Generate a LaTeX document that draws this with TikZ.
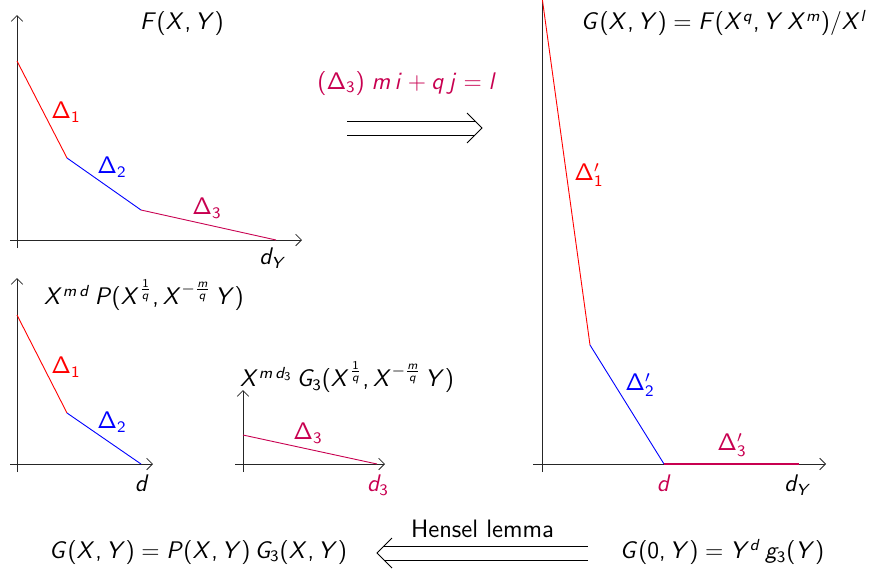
\documentclass[tikz,border=0pt]{standalone}
\usepackage{xcolor}
\usepackage{tikz}
\usetikzlibrary{positioning,arrows.meta,calc}
\definecolor{purp}{RGB}{200,0,80}
% sans serif maths
\DeclareSymbolFont{sfletters}{OT1}{cmss}{m}{sl}
\DeclareSymbolFont{sfops}{OT1}{cmss}{m}{n}
\newcount\mcc
\mcc=`A
\loop \mathcode\mcc=\numexpr"7000+\symsfletters*"100+\mcc\relax
  \ifnum\mcc<`Z \advance\mcc 1 \repeat
\mcc=`a
\loop \mathcode\mcc=\numexpr"7000+\symsfletters*"100+\mcc\relax
  \ifnum\mcc<`z \advance\mcc 1 \repeat
\mcc=`0
\loop \mathcode\mcc=\numexpr"7000+\symsfops*"100+\mcc\relax
  \ifnum\mcc<`9 \advance\mcc 1 \repeat
\mathcode`(=\numexpr"4000+\symsfops*"100+`(\relax
\mathcode`)=\numexpr"5000+\symsfops*"100+`)\relax
\mathcode`,=\numexpr"6000+\symsfops*"100+`,\relax
\mathcode`/=\numexpr"0000+\symsfops*"100+`/\relax
\mathcode`+=\numexpr"2000+\symsfops*"100+`+\relax
\mathcode`==\numexpr"3000+\symsfops*"100+`=\relax
\DeclareMathSymbol{\Delta}{\mathalpha}{sfops}{"01}

\begin{document}
\begin{tikzpicture}[
  x=0.5pt, y=-0.5pt,
  font=\sffamily\fontsize{12}{14}\selectfont,
  axis/.style={-{Straight Barb[length=2.9pt,width=5.8pt]}, line width=0.4pt, draw=black!85},
  segA/.style={draw=red, line width=0.45pt},
  segB/.style={draw=blue, line width=0.45pt},
  segC/.style={draw=purp, line width=0.45pt},
  lab/.style={inner sep=1pt},
  dbl/.style={double, double distance=6.5pt, line width=0.5pt, shorten >=3.6pt},
  chev/.style={line width=0.5pt}
]
\useasboundingbox (0,0) rectangle (871,568);
\clip (0,0) rectangle (871,568);
% F(X,Y)
\draw[axis] (17,248) -- (17,15);
\draw[axis] (10,240) -- (302,240);
\coordinate (f0) at (17,61);
\coordinate (f1) at (67,158);
\coordinate (f2) at (141,210);
\coordinate (f3) at (276,240);
\draw[segA] (f0) -- (f1);
\draw[segB] (f1) -- (f2);
\draw[segC] (f2) -- (f3);
\node (titleF) at (182,23) {$F(X,Y)$};
\node[lab, text=red]  (fd1) at (66,112)  {$\Delta_1$};
\node[lab, text=blue] (fd2) at (112,167) {$\Delta_2$};
\node[lab, text=purp] (fd3) at (207,208) {$\Delta_3$};
\node[lab] (fdY) at (273,258) {$d_Y$};
% transformation
\coordinate (tL) at (347,128);
\coordinate (tR) at (482,128);
\draw[dbl] (tL) -- (tR);
\draw[chev] ($(tR)!10.6pt!45:(tL)$) -- (tR) -- ($(tR)!10.6pt!-45:(tL)$);
\node[text=purp] (cond) at (407,83) {$(\Delta_3)\; m\,i+q\,j=l$};
% P
\draw[axis] (17,472) -- (17,278);
\draw[axis] (10,464) -- (153,464);
\coordinate (p0) at (17,315);
\coordinate (p1) at (67,413);
\coordinate (p2) at (141,464);
\draw[segA] (p0) -- (p1);
\draw[segB] (p1) -- (p2);
\node (titleP) at (144,295) {$X^{m\,d}\,P(X^{\frac{1}{q}},X^{-\frac{m}{q}}\,Y)$};
\node[lab, text=red]  (pd1) at (66,367)  {$\Delta_1$};
\node[lab, text=blue] (pd2) at (112,422) {$\Delta_2$};
\node[lab] (pd) at (142,483) {$d$};
% G_3
\draw[axis] (243,472) -- (243,390);
\draw[axis] (235,464) -- (385,464);
\coordinate (g0) at (243,435);
\coordinate (g1) at (377,464);
\draw[segC] (g0) -- (g1);
\node (titleGt) at (347,377) {$X^{m\,d_3}\,G_3(X^{\frac{1}{q}},X^{-\frac{m}{q}}\,Y)$};
\node[lab, text=purp] (gd3) at (308,433) {$\Delta_3$};
\node[lab, text=purp] (gd) at (378,485) {$d_3$};
% G(X,Y)
\draw[axis] (542,472) -- (542,-30);
\draw[axis] (533,464) -- (826,464);
\coordinate (h0) at (542,-3);
\coordinate (h1) at (590,345);
\coordinate (h2) at (664,464);
\coordinate (h3) at (799,464);
\draw[segA] (h0) -- (h1);
\draw[segB] (h1) -- (h2);
\draw[segC, line width=1pt] (h2) -- (h3);
\node (titleG) at (724,23) {$G(X,Y)=F(X^q,Y\,X^m)/X^l$};
\node[lab, text=red]  (hd1) at (589,175) {$\Delta'_1$};
\node[lab, text=blue] (hd2) at (640,385) {$\Delta'_2$};
\node[lab, text=purp] (hd3) at (732,445) {$\Delta'_3$};
\node[lab, text=purp] (hd) at (664,483) {$d$};
\node[lab] (hdY) at (798,485) {$d_Y$};
% factorisation
\node (fact) at (198,552) {$G(X,Y)=P(X,Y)\,G_3(X,Y)$};
\node (init) at (722,552) {$G(0,Y)=Y^d\,g_3(Y)$};
\coordinate (hR) at (588,553);
\coordinate (hL) at (377,553);
\draw[dbl] (hR) -- (hL);
\draw[chev] ($(hL)!10.6pt!45:(hR)$) -- (hL) -- ($(hL)!10.6pt!-45:(hR)$);
\node[above=4pt of $(hL)!0.5!(hR)$, font=\sffamily\fontsize{12.6}{14}\selectfont] (hensel) {Hensel lemma};
\end{tikzpicture}
\end{document}
